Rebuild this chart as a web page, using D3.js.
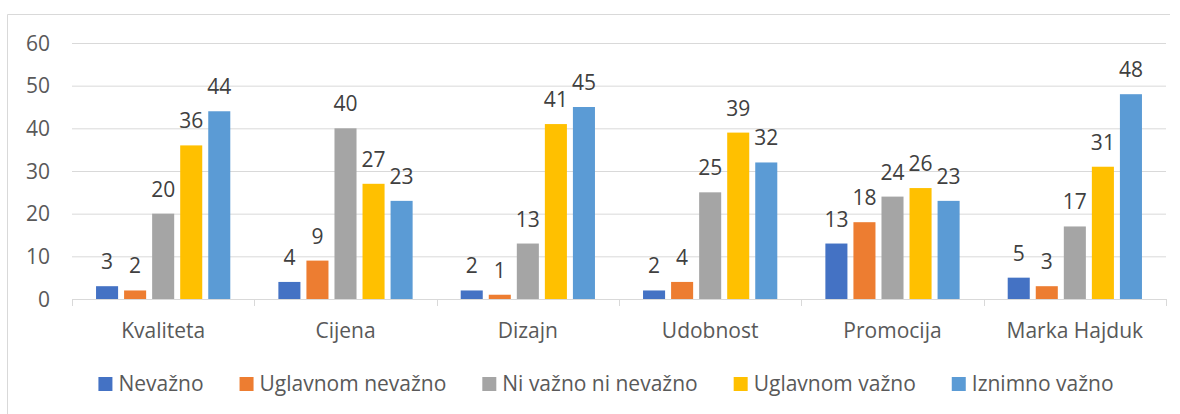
<!DOCTYPE html>
<html>
<head>
<meta charset="utf-8">
<script src="https://cdn.jsdelivr.net/npm/d3@7"></script>
<style>
  html, body { margin: 0; padding: 0; background: #fff; }
  svg { display: block; font-family: "Open Sans", sans-serif; }
</style>
</head>
<body>
<svg width="1180" height="414"></svg>
<script>
// data
var categories = ['Kvaliteta', 'Cijena', 'Dizajn', 'Udobnost', 'Promocija', 'Marka Hajduk'];
var seriesNames = ['Nevažno', 'Uglavnom nevažno', 'Ni važno ni nevažno', 'Uglavnom važno', 'Iznimno važno'];
var nevazno = [3, 4, 2, 2, 13, 5];
var uglavnomNevazno = [2, 9, 1, 4, 18, 3];
var niVaznoNiNevazno = [20, 40, 13, 25, 24, 17];
var uglavnomVazno = [36, 27, 41, 39, 26, 31];
var iznimnoVazno = [44, 23, 45, 32, 23, 48];
var yTicks = [0, 10, 20, 30, 40, 50, 60];

var seriesValues = [nevazno, uglavnomNevazno, niVaznoNiNevazno, uglavnomVazno, iznimnoVazno];
var colors = ['#4472C4', '#ED7D31', '#A5A5A5', '#FFC000', '#5B9BD5'];

var svg = d3.select('svg');

// chart border (right/bottom edges fall outside the picture)
svg.append('path')
  .attr('d', 'M7.5,420 V14.5 H1170')
  .attr('fill', 'none')
  .attr('stroke', '#d9d9d9');

var plotLeft = 72, plotRight = 1166, plotTop = 43, plotBottom = 299;
var fontSize = 21;

var x0 = d3.scaleBand().domain(categories).range([plotLeft, plotRight]).padding(0);
var x1 = d3.scaleBand().domain(d3.range(seriesNames.length))
  .range([0, x0.bandwidth()])
  .paddingInner(0.214)
  .paddingOuter(0.857);
var y = d3.scaleLinear().domain([0, 60]).range([plotBottom, plotTop]);

// gridlines
svg.append('g').selectAll('line')
  .data(yTicks.filter(function (d) { return d > 0; }))
  .enter().append('line')
  .attr('x1', plotLeft).attr('x2', plotRight)
  .attr('y1', function (d) { return y(d) + 0.5; })
  .attr('y2', function (d) { return y(d) + 0.5; })
  .attr('stroke', '#d9d9d9');

// y labels
svg.append('g').selectAll('text')
  .data(yTicks)
  .enter().append('text')
  .attr('x', 50)
  .attr('y', function (d) { return y(d); })
  .attr('dy', '0.36em')
  .attr('text-anchor', 'end')
  .attr('font-size', fontSize)
  .attr('fill', '#595959')
  .text(function (d) { return d; });

// bars
var groups = svg.append('g').selectAll('g')
  .data(categories)
  .enter().append('g')
  .attr('transform', function (d) { return 'translate(' + x0(d) + ',0)'; });

groups.each(function (cat, ci) {
  var g = d3.select(this);
  var vals = seriesValues.map(function (s) { return s[ci]; });
  g.selectAll('rect')
    .data(vals)
    .enter().append('rect')
    .attr('x', function (d, i) { return x1(i); })
    .attr('width', x1.bandwidth())
    .attr('y', function (d) { return y(d); })
    .attr('height', function (d) { return plotBottom - y(d); })
    .attr('fill', function (d, i) { return colors[i]; });
  g.selectAll('text')
    .data(vals)
    .enter().append('text')
    .attr('x', function (d, i) { return x1(i) + x1.bandwidth() / 2; })
    .attr('y', function (d) { return y(d) - 17; })
    .attr('text-anchor', 'middle')
    .attr('font-size', fontSize)
    .attr('fill', '#404040')
    .text(function (d) { return d; });
});

// x axis line and ticks
var xAxis = svg.append('g').attr('stroke', '#d9d9d9');
xAxis.append('line')
  .attr('x1', plotLeft).attr('x2', plotRight)
  .attr('y1', plotBottom + 0.5).attr('y2', plotBottom + 0.5);
xAxis.selectAll('line.tick')
  .data(categories.map(function (c) { return x0(c); }).concat([plotRight]))
  .enter().append('line')
  .attr('class', 'tick')
  .attr('x1', function (d) { return Math.round(d) + 0.5; })
  .attr('x2', function (d) { return Math.round(d) + 0.5; })
  .attr('y1', plotBottom).attr('y2', plotBottom + 7);

svg.append('g').selectAll('text')
  .data(categories)
  .enter().append('text')
  .attr('x', function (d) { return x0(d) + x0.bandwidth() / 2; })
  .attr('y', 338)
  .attr('text-anchor', 'middle')
  .attr('font-size', fontSize)
  .attr('fill', '#595959')
  .text(function (d) { return d; });

// legend
var legend = svg.append('g');
var items = legend.selectAll('g')
  .data(seriesNames)
  .enter().append('g');
items.append('rect')
  .attr('width', 14).attr('height', 14)
  .attr('y', 377)
  .attr('fill', function (d, i) { return colors[i]; });
items.append('text')
  .attr('x', 20)
  .attr('y', 391)
  .attr('font-size', fontSize)
  .attr('fill', '#595959')
  .text(function (d) { return d; });

var gap = 36, pos = 0, offsets = [];
items.each(function () {
  offsets.push(pos);
  pos += 20 + this.querySelector('text').getComputedTextLength() + gap;
});
var total = pos - gap;
var startX = 606 - total / 2;
items.attr('transform', function (d, i) { return 'translate(' + (startX + offsets[i]) + ',0)'; });
</script>
</body>
</html>
